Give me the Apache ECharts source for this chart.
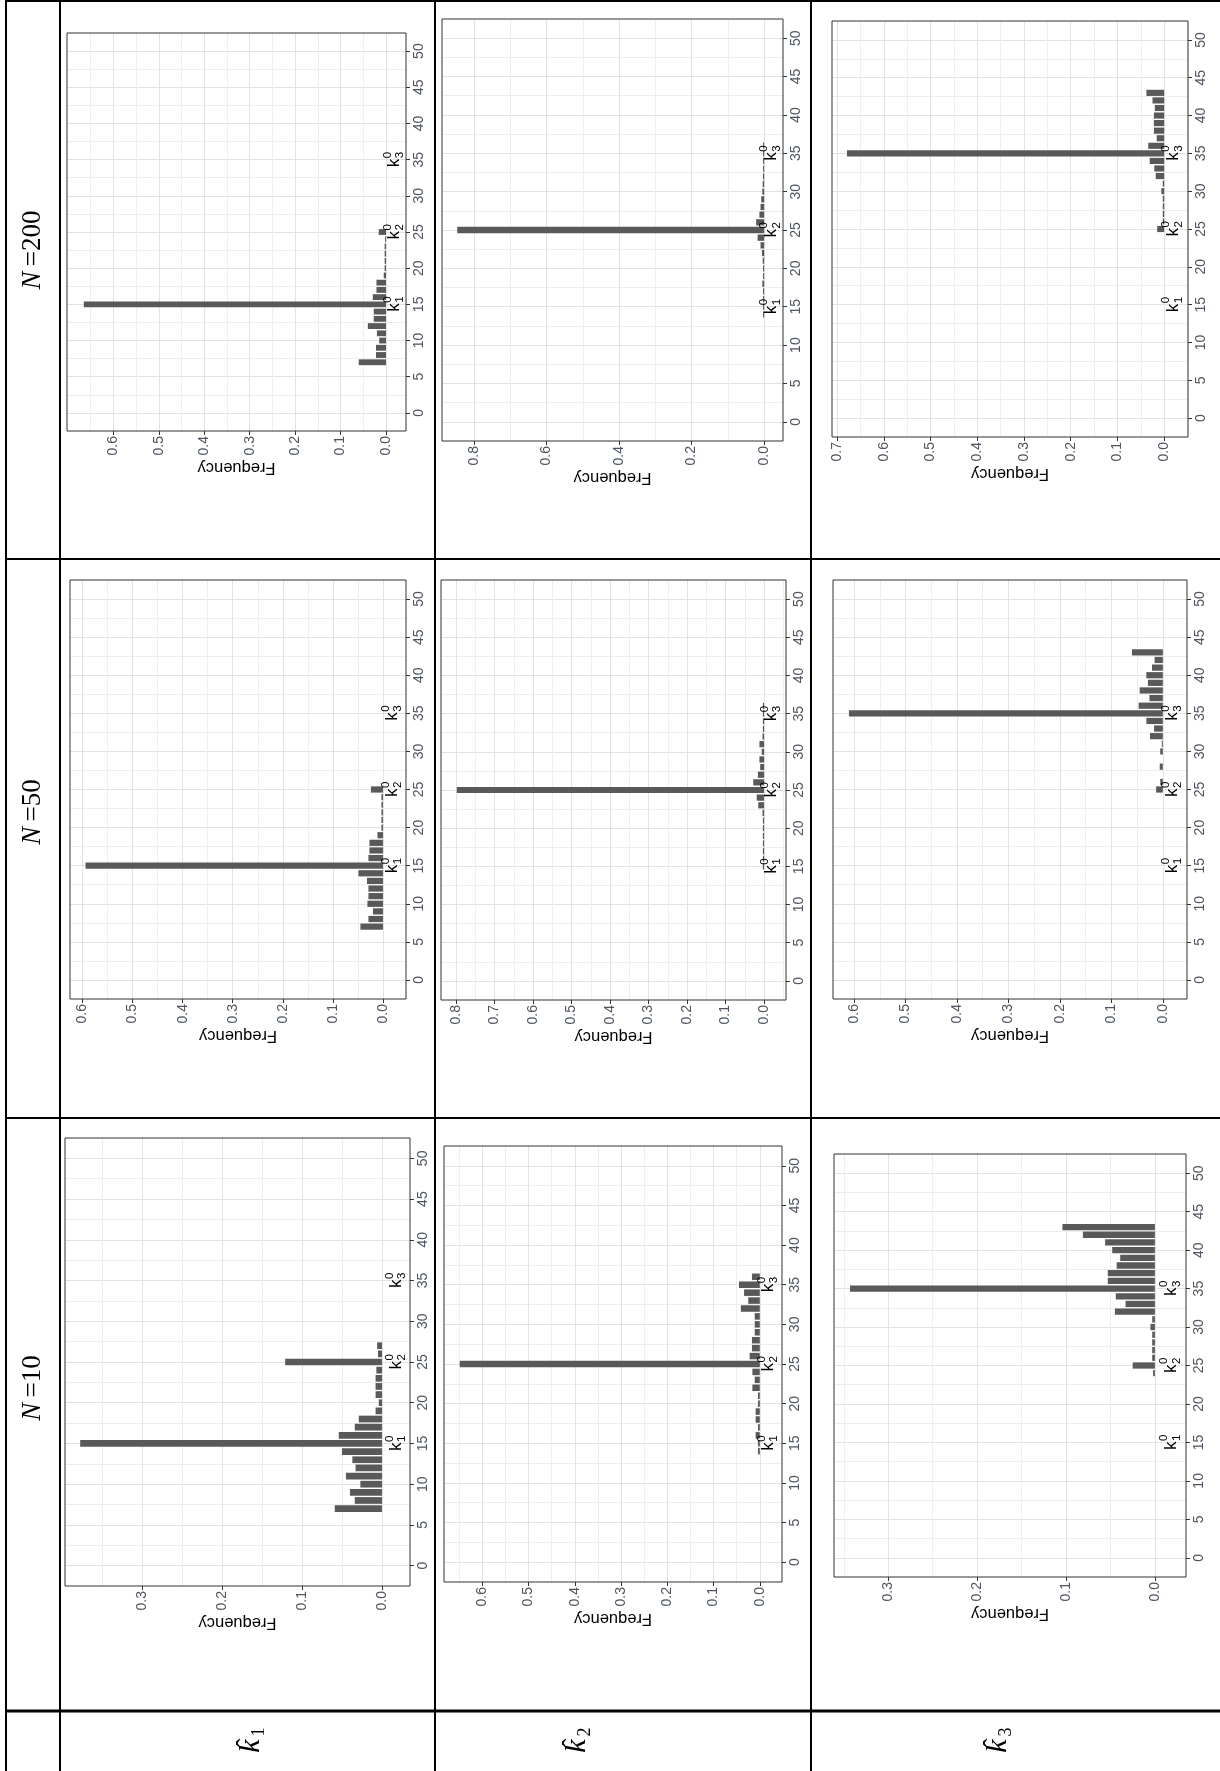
<!DOCTYPE html>
<html>
<head>
<meta charset="utf-8">
<script src="https://cdn.jsdelivr.net/npm/echarts@6/dist/echarts.min.js"></script>
<style>
html,body{margin:0;padding:0;background:#fff;}
#chart{width:1220px;height:1771px;}
</style>
</head>
<body>
<div id="chart"></div>
<script>
// ---------------- data ----------------
const sampleSizes = ['N=200', 'N=50', 'N=10'];
const estimators = ['1', '2', '3'];
const trueBreaks = [15, 25, 35];
const posTicks = [0, 5, 10, 15, 20, 25, 30, 35, 40, 45, 50];

// k1 , N=200
const k1_N200_pos  = [7, 8, 9, 10, 11, 12, 13, 14, 15, 16, 17, 18, 19, 20, 21, 22, 23, 24, 25];
const k1_N200_freq = [0.060, 0.022, 0.022, 0.015, 0.020, 0.040, 0.027, 0.027, 0.665, 0.029, 0.021, 0.021, 0.005, 0.003, 0.003, 0.003, 0.003, 0.002, 0.016];
// k2 , N=200
const k2_N200_pos  = [14, 15, 16, 17, 18, 19, 20, 21, 22, 23, 24, 25, 26, 27, 28, 29, 30, 31, 32, 33, 34, 35, 36];
const k2_N200_freq = [0.003, 0.003, 0.003, 0.003, 0.005, 0.003, 0.003, 0.004, 0.006, 0.010, 0.018, 0.846, 0.022, 0.013, 0.010, 0.008, 0.005, 0.004, 0.003, 0.003, 0.003, 0.003, 0.003];
// k3 , N=200
const k3_N200_pos  = [25, 26, 27, 28, 29, 30, 31, 32, 33, 34, 35, 36, 37, 38, 39, 40, 41, 42, 43];
const k3_N200_freq = [0.015, 0.003, 0.003, 0.003, 0.003, 0.006, 0.003, 0.018, 0.021, 0.031, 0.679, 0.034, 0.016, 0.022, 0.022, 0.022, 0.020, 0.025, 0.038];
// k1 , N=50
const k1_N50_pos  = [7, 8, 9, 10, 11, 12, 13, 14, 15, 16, 17, 18, 19, 20, 21, 22, 23, 24, 25];
const k1_N50_freq = [0.045, 0.029, 0.020, 0.031, 0.029, 0.029, 0.032, 0.049, 0.594, 0.029, 0.027, 0.027, 0.011, 0.003, 0.003, 0.003, 0.003, 0.003, 0.024];
// k2 , N=50
const k2_N50_pos  = [15, 16, 17, 18, 19, 20, 21, 22, 23, 24, 25, 26, 27, 28, 29, 30, 31, 32, 33, 34, 35, 36];
const k2_N50_freq = [0.003, 0.003, 0.003, 0.003, 0.003, 0.003, 0.003, 0.004, 0.015, 0.019, 0.798, 0.028, 0.016, 0.010, 0.012, 0.006, 0.012, 0.004, 0.003, 0.003, 0.003, 0.003];
// k3 , N=50
const k3_N50_pos  = [25, 26, 27, 28, 29, 30, 31, 32, 33, 34, 35, 36, 37, 38, 39, 40, 41, 42, 43];
const k3_N50_freq = [0.013, 0.005, 0.000, 0.006, 0.000, 0.005, 0.002, 0.025, 0.017, 0.032, 0.610, 0.047, 0.026, 0.045, 0.029, 0.032, 0.021, 0.016, 0.060];
// k1 , N=10
const k1_N10_pos  = [7, 8, 9, 10, 11, 12, 13, 14, 15, 16, 17, 18, 19, 20, 21, 22, 23, 24, 25, 26, 27];
const k1_N10_freq = [0.059, 0.034, 0.040, 0.027, 0.045, 0.033, 0.037, 0.050, 0.377, 0.054, 0.034, 0.029, 0.008, 0.004, 0.008, 0.008, 0.008, 0.007, 0.121, 0.005, 0.006];
// k2 , N=10
const k2_N10_pos  = [14, 15, 16, 17, 18, 19, 20, 21, 22, 23, 24, 25, 26, 27, 28, 29, 30, 31, 32, 33, 34, 35, 36];
const k2_N10_freq = [0.004, 0.004, 0.009, 0.004, 0.009, 0.009, 0.004, 0.004, 0.016, 0.011, 0.016, 0.649, 0.022, 0.017, 0.017, 0.011, 0.011, 0.011, 0.041, 0.025, 0.034, 0.045, 0.017];
// k3 , N=10
const k3_N10_pos  = [24, 25, 26, 27, 28, 29, 30, 31, 32, 33, 34, 35, 36, 37, 38, 39, 40, 41, 42, 43];
const k3_N10_freq = [0.002, 0.025, 0.003, 0.003, 0.003, 0.003, 0.005, 0.003, 0.045, 0.033, 0.044, 0.343, 0.053, 0.053, 0.043, 0.039, 0.048, 0.056, 0.081, 0.104];

// frequency-axis tick labels
const ticks_k1_N200 = [0, 0.1, 0.2, 0.3, 0.4, 0.5, 0.6];
const ticks_k2_N200 = [0, 0.2, 0.4, 0.6, 0.8];
const ticks_k3_N200 = [0, 0.1, 0.2, 0.3, 0.4, 0.5, 0.6, 0.7];
const ticks_k1_N50  = [0, 0.1, 0.2, 0.3, 0.4, 0.5, 0.6];
const ticks_k2_N50  = [0, 0.1, 0.2, 0.3, 0.4, 0.5, 0.6, 0.7, 0.8];
const ticks_k3_N50  = [0, 0.1, 0.2, 0.3, 0.4, 0.5, 0.6];
const ticks_k1_N10  = [0, 0.1, 0.2, 0.3];
const ticks_k2_N10  = [0, 0.1, 0.2, 0.3, 0.4, 0.5, 0.6];
const ticks_k3_N10  = [0, 0.1, 0.2, 0.3];

// ---------------- layout (pixels, rotated page) ----------------
const panels = [
  {L: 67,  T: 33,   R: 406,  B: 431,  fmin: -0.044, fmax: 0.702, major: 0.1, pos: k1_N200_pos, freq: k1_N200_freq, ticks: ticks_k1_N200},
  {L: 442, T: 19,   R: 783,  B: 441,  fmin: -0.052, fmax: 0.888, major: 0.2, pos: k2_N200_pos, freq: k2_N200_freq, ticks: ticks_k2_N200},
  {L: 832, T: 21,   R: 1188, B: 437,  fmin: -0.051, fmax: 0.711, major: 0.1, pos: k3_N200_pos, freq: k3_N200_freq, ticks: ticks_k3_N200},
  {L: 70,  T: 580,  R: 406,  B: 999,  fmin: -0.046, fmax: 0.625, major: 0.1, pos: k1_N50_pos,  freq: k1_N50_freq,  ticks: ticks_k1_N50},
  {L: 441, T: 580,  R: 786,  B: 1000, fmin: -0.057, fmax: 0.839, major: 0.1, pos: k2_N50_pos,  freq: k2_N50_freq,  ticks: ticks_k2_N50},
  {L: 833, T: 580,  R: 1187, B: 999,  fmin: -0.047, fmax: 0.641, major: 0.1, pos: k3_N50_pos,  freq: k3_N50_freq,  ticks: ticks_k3_N50},
  {L: 65,  T: 1138, R: 410,  B: 1586, fmin: -0.035, fmax: 0.396, major: 0.1, pos: k1_N10_pos,  freq: k1_N10_freq,  ticks: ticks_k1_N10},
  {L: 444, T: 1146, R: 782,  B: 1582, fmin: -0.048, fmax: 0.683, major: 0.1, pos: k2_N10_pos,  freq: k2_N10_freq,  ticks: ticks_k2_N10},
  {L: 834, T: 1154, R: 1186, B: 1577, fmin: -0.035, fmax: 0.361, major: 0.1, pos: k3_N10_pos,  freq: k3_N10_freq,  ticks: ticks_k3_N10}
];

const SANS = '"Liberation Sans", Arial, sans-serif';
const SERIF = '"Liberation Serif", "Times New Roman", serif';
const tickColor = '#4d5560';
const barColor = '#595959';
const majorGrid = '#e2e2e2';
const minorGrid = '#eeeeee';

const grids = [], xAxes = [], yAxes = [], series = [];

panels.forEach((p, i) => {
  grids.push({
    left: p.L, top: p.T, width: p.R - p.L, height: p.B - p.T,
    show: true, z: 10, backgroundColor: 'transparent',
    borderColor: '#333333', borderWidth: 1, containLabel: false
  });
  xAxes.push({
    gridIndex: i, type: 'value', inverse: true, position: 'bottom',
    min: p.fmin, max: p.fmax, minInterval: p.major, maxInterval: p.major,
    axisLine: {show: false, onZero: false},
    axisTick: {show: true, customValues: p.ticks, length: 4, lineStyle: {color: '#333333', width: 1}},
    axisLabel: {customValues: p.ticks, rotate: 90, margin: 5, color: tickColor, fontSize: 14, fontFamily: SANS,
                formatter: v => Number(v).toFixed(1)},
    splitLine: {show: true, lineStyle: {color: majorGrid, width: 1}},
    minorTick: {show: false, splitNumber: 2},
    minorSplitLine: {show: true, lineStyle: {color: minorGrid, width: 1}},
    name: 'Frequency', nameLocation: 'middle', nameGap: 26, nameRotate: 180,
    nameTextStyle: {color: '#000', fontSize: 16.5, fontFamily: SANS}
  });
  yAxes.push({
    gridIndex: i, type: 'value', position: 'right',
    min: -2.5, max: 52.5, minInterval: 5, maxInterval: 5,
    axisLine: {show: false, onZero: false},
    axisTick: {show: true, customValues: posTicks, length: 4, lineStyle: {color: '#333333', width: 1}},
    axisLabel: {customValues: posTicks, rotate: 90, margin: 6, color: tickColor, fontSize: 14, fontFamily: SANS},
    splitLine: {show: true, lineStyle: {color: majorGrid, width: 1}},
    minorTick: {show: false, splitNumber: 2},
    minorSplitLine: {show: true, lineStyle: {color: minorGrid, width: 1}}
  });
  series.push({
    type: 'custom', xAxisIndex: i, yAxisIndex: i, z: 3,
    data: p.pos.map((q, j) => [p.freq[j], q]),
    encode: {x: 0, y: 1},
    renderItem: function (params, api) {
      const f = api.value(0), q = api.value(1);
      const a = api.coord([0, q - 0.5]);
      const b = api.coord([f, q + 0.5]);
      const x = Math.min(a[0], b[0]);
      const w = Math.abs(a[0] - b[0]);
      const y = Math.min(a[1], b[1]) + 0.7;
      const h = Math.abs(a[1] - b[1]) - 1.4;
      return {type: 'rect', shape: {x: x, y: y, width: w, height: h}, style: {fill: barColor}};
    }
  });
  series.push({
    type: 'custom', xAxisIndex: i, yAxisIndex: i, z: 4,
    data: trueBreaks.map((q, j) => [-0.017, q, j + 1]),
    encode: {x: 0, y: 1},
    renderItem: function (params, api) {
      const c = api.coord([api.value(0), api.value(1)]);
      const idx = api.value(2);
      return {
        type: 'group', x: c[0], y: c[1], rotation: Math.PI / 2,
        children: [
          {type: 'text', x: 1, y: 1, style: {text: 'k', fill: '#000', fontSize: 17, fontFamily: SANS, align: 'right', verticalAlign: 'middle'}},
          {type: 'text', x: 1.5, y: -6, style: {text: '0', fill: '#000', fontSize: 11.5, fontFamily: SANS, align: 'left', verticalAlign: 'middle'}},
          {type: 'text', x: 1.5, y: 6.5, style: {text: String(idx), fill: '#000', fontSize: 11.5, fontFamily: SANS, align: 'left', verticalAlign: 'middle'}}
        ]
      };
    }
  });
});

// ---------------- table frame & headers ----------------
const graphic = [];
function hline(y, x1, x2, w) { graphic.push({type: 'line', shape: {x1: x1, y1: y, x2: x2, y2: y}, style: {stroke: '#000', lineWidth: w}, z: 20}); }
function vline(x, y1, y2, w) { graphic.push({type: 'line', shape: {x1: x, y1: y1, x2: x, y2: y2}, style: {stroke: '#000', lineWidth: w}, z: 20}); }
hline(1, 6, 1220, 2);
hline(559, 6, 1220, 2);
hline(1118, 6, 1220, 2);
hline(1711, 6, 1220, 3);
vline(6, 0, 1771, 2);
vline(60, 0, 1771, 2);
vline(435, 0, 1771, 2);
vline(811, 0, 1771, 2);

const nLabelY = [250, 812, 1388];
sampleSizes.forEach((s, i) => {
  const num = s.split('=')[1];
  graphic.push({
    type: 'text', x: 33, y: nLabelY[i], rotation: Math.PI / 2, z: 20,
    style: {
      text: '{i|N}{r|\u2009=' + num + '}', align: 'center', verticalAlign: 'middle', fill: '#000',
      rich: {
        i: {fontFamily: SERIF, fontStyle: 'italic', fontSize: 27, fill: '#000'},
        r: {fontFamily: SERIF, fontSize: 27, fill: '#000'}
      }
    }
  });
});

const kLabelX = [247, 573, 994];
estimators.forEach((e, i) => {
  graphic.push({
    type: 'group', x: kLabelX[i], y: 1741, rotation: Math.PI / 2, z: 20,
    children: [
      {type: 'text', x: -5, y: 4, style: {text: 'k', fill: '#000', fontSize: 30, fontStyle: 'italic', fontFamily: SERIF, align: 'center', verticalAlign: 'middle'}},
      {type: 'text', x: -2, y: 1, style: {text: '\u02C6', fill: '#000', fontSize: 28, fontFamily: SERIF, align: 'center', verticalAlign: 'middle'}},
      {type: 'text', x: 9, y: 12, style: {text: e, fill: '#000', fontSize: 18, fontFamily: SERIF, align: 'center', verticalAlign: 'middle'}}
    ]
  });
});

const chart = echarts.init(document.getElementById('chart'), null, {renderer: 'canvas'});
chart.setOption({
  animation: false,
  backgroundColor: '#ffffff',
  grid: grids,
  xAxis: xAxes,
  yAxis: yAxes,
  series: series,
  graphic: graphic
});
</script>
</body>
</html>
